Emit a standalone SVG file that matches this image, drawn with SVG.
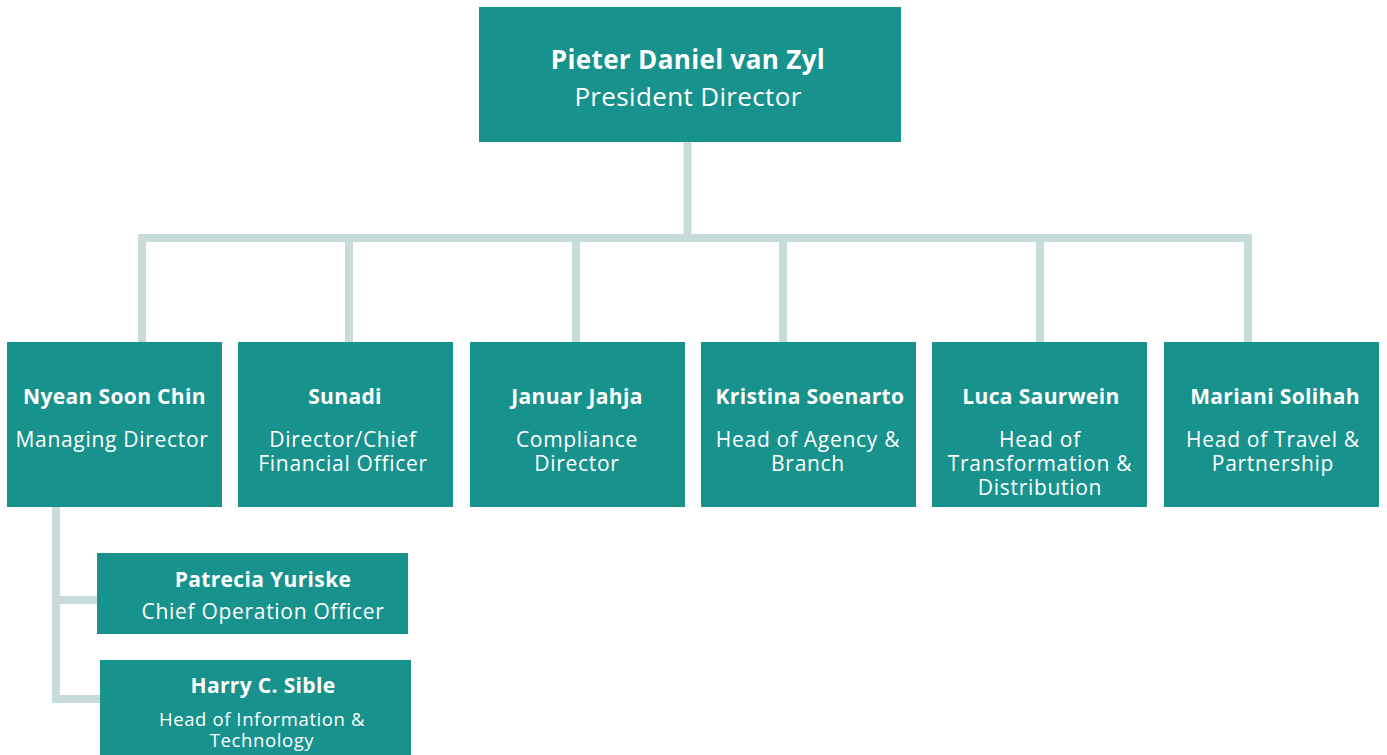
<svg xmlns="http://www.w3.org/2000/svg" width="1387" height="755" viewBox="0 0 1387 755">
<style>
.box{fill:#17928C}
.ln{stroke:#C8DBDB;stroke-width:8;fill:none}
text{font-family:"Open Sans",Lato,sans-serif;fill:#FFFFFF;text-anchor:middle}
.nm{font-weight:bold;font-size:21px;letter-spacing:0.35px}
.tt{font-size:21px;letter-spacing:0.7px}
.nmL{font-weight:bold;font-size:26px;letter-spacing:0.35px}
.ttL{font-size:26px;letter-spacing:0.35px}
.ttS{font-size:18.5px;letter-spacing:0.6px}
</style>
<rect width="1387" height="755" fill="#FFFFFF"/>
<g id="connectors">
<path class="ln" d="M687.5 142V238M138 238H1252M142 234V342M349 234V342M576 234V342M783 234V342M1040 234V342M1248 234V342"/>
<path class="ln" d="M56 507V703M52 600H97M52 699H100"/>
</g>
<g id="n-president">
<rect class="box" x="479" y="7" width="422" height="135"/>
<text class="nmL" x="688" y="69">Pieter Daniel van Zyl</text>
<text class="ttL" x="688" y="106">President Director</text>
</g>
<g id="n-managing">
<rect class="box" x="7" y="342" width="215" height="165"/>
<text class="nm" x="114.5" y="404">Nyean Soon Chin</text>
<text class="tt" x="112" y="447">Managing Director</text>
</g>
<g id="n-cfo">
<rect class="box" x="238" y="342" width="215" height="165"/>
<text class="nm" x="345" y="404">Sunadi</text>
<text class="tt" x="343" y="447">Director/Chief</text>
<text class="tt" x="343" y="471">Financial Officer</text>
</g>
<g id="n-compliance">
<rect class="box" x="470" y="342" width="215" height="165"/>
<text class="nm" x="577" y="404">Januar Jahja</text>
<text class="tt" x="577" y="447">Compliance</text>
<text class="tt" x="577" y="471">Director</text>
</g>
<g id="n-agency">
<rect class="box" x="701" y="342" width="215" height="165"/>
<text class="nm" x="810" y="404">Kristina Soenarto</text>
<text class="tt" x="808" y="447">Head of Agency &amp;</text>
<text class="tt" x="808" y="471">Branch</text>
</g>
<g id="n-transformation">
<rect class="box" x="932" y="342" width="215" height="165"/>
<text class="nm" x="1041" y="404">Luca Saurwein</text>
<text class="tt" x="1040" y="447">Head of</text>
<text class="tt" x="1040" y="471">Transformation &amp;</text>
<text class="tt" x="1040" y="495">Distribution</text>
</g>
<g id="n-travel">
<rect class="box" x="1164" y="342" width="215" height="165"/>
<text class="nm" x="1275" y="404">Mariani Solihah</text>
<text class="tt" x="1273" y="447">Head of Travel &amp;</text>
<text class="tt" x="1273" y="471">Partnership</text>
</g>
<g id="n-coo">
<rect class="box" x="97" y="553" width="311" height="81"/>
<text class="nm" x="263" y="587">Patrecia Yuriske</text>
<text class="tt" x="263" y="619">Chief Operation Officer</text>
</g>
<g id="n-it">
<rect class="box" x="100" y="660" width="311" height="100"/>
<text class="nm" x="263" y="693">Harry C. Sible</text>
<text class="ttS" x="262" y="726">Head of Information &amp;</text>
<text class="ttS" x="262" y="747">Technology</text>
</g>
</svg>
